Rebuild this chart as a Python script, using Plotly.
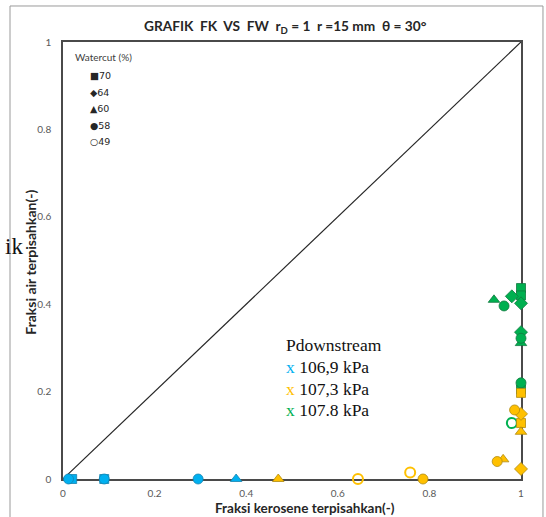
import plotly.graph_objects as go

# ---------------- data ----------------
x_ticks = [0, 0.2, 0.4, 0.6, 0.8, 1]
x_tick_labels = ["0", "0.2", "0.4", "0.6", "0.8", "1"]
y_ticks = [0, 0.2, 0.4, 0.6, 0.8, 1]
y_tick_labels = ["0", "0.2", "0.4", "0.6", "0.8", "1"]

watercut_levels = [70, 64, 60, 58, 49]
watercut_symbols = ["square", "diamond", "triangle-up", "circle", "circle-open"]
watercut_glyphs = ["■", "◆", "▲", "●", "○"]

pressures = ["106,9 kPa", "107,3 kPa", "107.8 kPa"]
pressure_colors = ["#00B0F0", "#FFC000", "#00B050"]
pressure_edges = ["#1784B0", "#B08A10", "#127A40"]

# 106,9 kPa
fk_1069 = [0.02, 0.012, 0.09, 0.09, 0.295, 0.378]
fw_1069 = [0.0, 0.0, 0.0, 0.0, 0.0, 0.0]
wc_1069 = [70, 58, 58, 70, 58, 60]

# 107,8 kPa
fk_1078 = [1.0, 1.0, 1.0, 0.98, 0.941, 0.963, 1.0, 1.0, 1.0, 1.0, 1.0, 0.98]
fw_1078 = [0.437, 0.42, 0.402, 0.418, 0.41, 0.396, 0.336, 0.322, 0.311, 0.22, 0.205, 0.128]
wc_1078 = [70, 70, 64, 64, 60, 58, 64, 58, 60, 58, 70, 49]

# 107,3 kPa
fk_1073 = [0.47, 0.644, 0.758, 0.786, 0.948, 0.961, 1.0, 1.0, 1.0, 0.986, 1.0, 1.0]
fw_1073 = [0.0, 0.0, 0.015, 0.0, 0.04, 0.045, 0.023, 0.108, 0.128, 0.158, 0.149, 0.197]
wc_1073 = [60, 49, 49, 58, 58, 60, 64, 60, 70, 58, 64, 70]

diag = [0, 1]

# ---------------- figure ----------------
fig = go.Figure()

fig.add_trace(go.Scatter(x=diag, y=diag, mode="lines",
                         line=dict(color="#262626", width=1.2),
                         showlegend=False, hoverinfo="skip"))

sym_of = dict(zip(watercut_levels, watercut_symbols))

series = [
    (fk_1069, fw_1069, wc_1069, 0),
    (fk_1078, fw_1078, wc_1078, 2),
    (fk_1073, fw_1073, wc_1073, 1),
]
for fk, fw, wc, ci in series:
    col = pressure_colors[ci]
    edge = pressure_edges[ci]
    for lvl in watercut_levels:
        xs = [a for a, w in zip(fk, wc) if w == lvl]
        ys = [b for b, w in zip(fw, wc) if w == lvl]
        if not xs:
            continue
        sym = sym_of[lvl]
        if sym == "circle-open":
            marker = dict(symbol=sym, size=10, color=col, line=dict(color=col, width=2))
        else:
            size = 9 if sym == "square" else 10
            marker = dict(symbol=sym, size=size, color=col, line=dict(color=edge, width=0.8))
        fig.add_trace(go.Scatter(x=xs, y=ys, mode="markers", marker=marker,
                                 cliponaxis=False, showlegend=False,
                                 name=f"{pressures[ci]} – {lvl}%"))

axis_common = dict(range=[0, 1], showgrid=False, zeroline=False, showline=True,
                   linecolor="#4a4a4a", linewidth=1.5, mirror=True, ticks="",
                   layer="below traces",
                   tickfont=dict(family="Lato", size=10, color="#595959"))

fig.update_xaxes(tickvals=x_ticks, ticktext=x_tick_labels, ticklabelstandoff=4, **axis_common)
fig.update_yaxes(tickvals=y_ticks, ticktext=y_tick_labels, ticklabelstandoff=8, **axis_common)

NB = "\u00a0"
annotations = []
# Title
annotations.append(dict(
    text=f"GRAFIK{NB}{NB}FK{NB}{NB}VS{NB}{NB}FW{NB}{NB}r<sub>D</sub>{NB}={NB}1{NB}{NB}r{NB}=15{NB}mm{NB}{NB}θ{NB}={NB}30°",
    xref="paper", yref="paper", x=0.485, y=1.0366, xanchor="center", yanchor="middle",
    showarrow=False, font=dict(family="Lato", size=13.7, color="#262626", weight="bold")))
# Axis titles
annotations.append(dict(
    text="Fraksi kerosene terpisahkan(-)", xref="paper", yref="paper",
    x=0.528, y=-0.0664, xanchor="center", yanchor="middle", showarrow=False,
    borderpad=0,
    font=dict(family="Lato", size=13.5, color="#262626", weight="bold")))
annotations.append(dict(
    text="Fraksi air terpisahkan(-)", xref="paper", yref="paper",
    x=-0.071, y=0.496, xanchor="center", yanchor="middle", showarrow=False,
    textangle=-90, font=dict(family="Lato", size=14, color="#262626", weight="bold")))
# stray text at left
annotations.append(dict(
    text="ik", xref="paper", yref="paper", x=-0.083, y=0.531,
    xanchor="right", yanchor="middle", showarrow=False,
    font=dict(family="Liberation Serif", size=23, color="#111111")))

# Watercut legend
annotations.append(dict(
    text="Watercut (%)", xref="paper", yref="paper", x=0.0218, y=0.9657,
    xanchor="left", yanchor="middle", showarrow=False,
    font=dict(family="Lato", size=10, color="#404040")))
legend_y = [0.9222, 0.8833, 0.8467, 0.8078, 0.7712]
for lvl, g, yy in zip(watercut_levels, watercut_glyphs, legend_y):
    annotations.append(dict(
        text=f"{g}{lvl}", xref="paper", yref="paper", x=0.0545, y=yy,
        xanchor="left", yanchor="middle", showarrow=False,
        font=dict(family="DejaVu Sans", size=9.5, color="#262626")))

# Pdownstream box
p_y = [0.2563, 0.2059, 0.1579]
annotations.append(dict(
    text="Pdownstream", xref="paper", yref="paper", x=0.4825, y=0.3066,
    xanchor="left", yanchor="middle", showarrow=False,
    font=dict(family="Liberation Serif", size=17.5, color="#111111")))
for p, c, yy in zip(pressures, pressure_colors, p_y):
    annotations.append(dict(
        text=f"<span style='color:{c}'>x</span> {p}", xref="paper", yref="paper",
        x=0.4825, y=yy, xanchor="left", yanchor="middle", showarrow=False,
        font=dict(family="Liberation Serif", size=17.5, color="#111111")))

fig.update_layout(
    width=546, height=517,
    margin=dict(l=63, r=25, t=42, b=38),
    paper_bgcolor="white", plot_bgcolor="white",
    annotations=annotations,
    shapes=[dict(type="rect", xref="paper", yref="paper",
                 x0=-0.1157, x1=1.048, y0=-0.12, y1=1.0824,
                 line=dict(color="#9a9a9a", width=1), layer="below")],
    showlegend=False,
)

fig.write_html("out.html")
